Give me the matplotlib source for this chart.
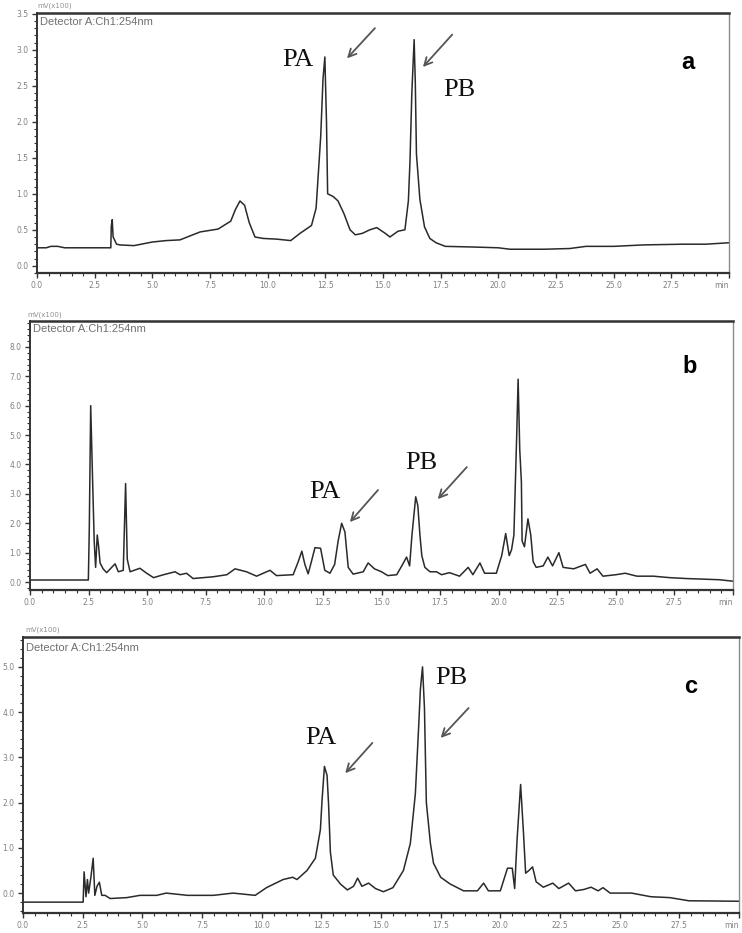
import matplotlib
matplotlib.use("Agg")
import matplotlib.pyplot as plt
from matplotlib.ticker import MultipleLocator

# ---------------- data (time in min, signal in mV x100) ----------------
t_a = [0.0, 0.4, 0.6, 0.9, 1.2, 3.2, 3.22, 3.26, 3.3, 3.36, 3.45, 3.6, 4.2, 5.0, 5.6,
       6.2, 7.07, 7.85, 8.4, 8.6, 8.8, 9.0, 9.2, 9.45, 9.8, 10.4, 11.0, 11.4, 11.9,
       12.1, 12.3, 12.4, 12.48, 12.55, 12.6, 12.85, 13.05, 13.3, 13.57, 13.8, 14.1,
       14.43, 14.73, 15.1, 15.3, 15.65, 15.95, 16.1, 16.17, 16.25, 16.35, 16.4,
       16.45, 16.6, 16.8, 17.03, 17.3, 17.7, 19.0, 20.0, 20.5, 22.0, 23.1, 23.8,
       25.0, 26.3, 28.0, 29.0, 30.0]
v_a = [0.25, 0.25, 0.27, 0.27, 0.25, 0.25, 0.55, 0.64, 0.4, 0.36, 0.3, 0.29, 0.28, 0.33, 0.35,
       0.36, 0.47, 0.51, 0.62, 0.78, 0.9, 0.84, 0.6, 0.4, 0.38, 0.37, 0.35, 0.45, 0.56,
       0.8, 1.8, 2.6, 2.9, 2.0, 1.0, 0.96, 0.9, 0.73, 0.5, 0.43, 0.45,
       0.5, 0.53, 0.45, 0.4, 0.48, 0.5, 0.9, 1.45, 2.4, 3.14, 2.55,
       1.55, 0.92, 0.54, 0.38, 0.32, 0.27, 0.26, 0.25, 0.23, 0.23, 0.24, 0.27,
       0.27, 0.29, 0.3, 0.3, 0.32]

t_b = [0.0, 2.49, 2.53, 2.59, 2.66, 2.74, 2.8, 2.87, 2.93, 2.99, 3.12, 3.27, 3.63, 3.77,
       3.98, 4.08, 4.15, 4.27, 4.69, 4.98, 5.27, 5.7, 6.19, 6.4, 6.68, 6.96, 7.82, 8.4,
       8.75, 9.24, 9.67, 10.24, 10.52, 11.23, 11.45, 11.6, 11.73, 11.87, 12.01, 12.16,
       12.4, 12.58, 12.8, 13.0, 13.15, 13.3, 13.44, 13.58, 13.79, 14.22, 14.43, 14.7,
       15.0, 15.27, 15.65, 15.9, 16.07, 16.2, 16.3, 16.46, 16.55, 16.64, 16.72, 16.85,
       17.07, 17.35, 17.56, 17.9, 18.33, 18.7, 18.9, 19.2, 19.4, 19.9, 20.13, 20.3,
       20.45, 20.55, 20.65, 20.77, 20.83, 20.9, 20.97, 21.0, 21.1, 21.25, 21.37, 21.47,
       21.6, 21.9, 22.1, 22.3, 22.57, 22.75, 23.2, 23.7, 23.9, 24.2, 24.45, 25.0, 25.4,
       25.9, 26.6, 27.3, 28.0, 29.4, 30.0]
v_b = [0.07, 0.07, 1.8, 6.0, 3.8, 1.4, 0.5, 1.6, 1.2, 0.65, 0.45, 0.32, 0.62, 0.35,
       0.4, 3.35, 0.78, 0.35, 0.47, 0.3, 0.15, 0.25, 0.35, 0.25, 0.3, 0.12, 0.18, 0.25,
       0.45, 0.35, 0.2, 0.4, 0.22, 0.25, 0.7, 1.05, 0.6, 0.28, 0.7, 1.17,
       1.15, 0.4, 0.3, 0.6, 1.4, 2.0, 1.7, 0.5, 0.27, 0.35, 0.65, 0.45,
       0.35, 0.22, 0.25, 0.6, 0.85, 0.55, 1.6, 2.9, 2.6, 1.6, 0.9, 0.5,
       0.35, 0.35, 0.25, 0.32, 0.2, 0.5, 0.25, 0.65, 0.3, 0.3, 0.9, 1.65,
       0.9, 1.1, 1.6, 5.0, 6.9, 4.5, 3.4, 1.4, 1.2, 2.15, 1.6, 0.7,
       0.5, 0.55, 0.85, 0.55, 1.0, 0.5, 0.45, 0.6, 0.3, 0.45, 0.2, 0.25, 0.3,
       0.2, 0.2, 0.15, 0.12, 0.08, 0.03]

t_c = [0.0, 2.52, 2.56, 2.64, 2.7, 2.75, 2.84, 2.94, 3.01, 3.1, 3.2, 3.3, 3.44, 3.65,
       4.35, 4.9, 5.6, 6.0, 6.9, 7.98, 8.8, 9.73, 10.2, 10.9, 11.3, 11.48, 11.9, 12.25,
       12.46, 12.53, 12.63, 12.74, 12.8, 12.88, 13.0, 13.3, 13.59, 13.85, 14.02, 14.2,
       14.48, 14.77, 15.1, 15.5, 15.94, 16.23, 16.44, 16.58, 16.65, 16.74, 16.82, 16.9,
       17.07, 17.2, 17.5, 17.9, 18.46, 19.04, 19.3, 19.5, 20.0, 20.3, 20.5, 20.6, 20.7,
       20.85, 20.97, 21.06, 21.2, 21.35, 21.5, 21.8, 22.2, 22.45, 22.86, 23.15, 23.5,
       23.8, 24.1, 24.3, 24.6, 25.5, 26.3, 27.1, 27.9, 30.0]
v_c = [-0.2, -0.2, 0.47, -0.08, 0.3, 0.0, 0.33, 0.77, -0.05, 0.15, 0.24, -0.05, -0.05, -0.12,
       -0.1, -0.05, -0.05, 0.0, -0.05, -0.05, 0.0, -0.05, 0.12, 0.3, 0.35, 0.3, 0.5, 0.77,
       1.4, 2.05, 2.8, 2.6, 2.0, 0.9, 0.4, 0.2, 0.07, 0.15, 0.33, 0.15,
       0.22, 0.1, 0.03, 0.12, 0.5, 1.1, 2.2, 3.7, 4.5, 5.0, 4.1, 2.0,
       1.1, 0.66, 0.35, 0.2, 0.05, 0.05, 0.22, 0.05, 0.05, 0.55, 0.55, 0.1, 1.17,
       2.4, 1.33, 0.44, 0.5, 0.58, 0.25, 0.13, 0.22, 0.1, 0.22, 0.05, 0.08,
       0.13, 0.05, 0.12, 0.0, 0.0, -0.08, -0.1, -0.17, -0.18]

x_ticks = [0.0, 2.5, 5.0, 7.5, 10.0, 12.5, 15.0, 17.5, 20.0, 22.5, 25.0, 27.5, 30.0]
x_tick_labels = ["0.0", "2.5", "5.0", "7.5", "10.0", "12.5", "15.0", "17.5",
                 "20.0", "22.5", "25.0", "27.5", "min"]
y_ticks_a = [0.0, 0.5, 1.0, 1.5, 2.0, 2.5, 3.0, 3.5]
y_ticks_b = [0, 1, 2, 3, 4, 5, 6, 7, 8]
y_ticks_c = [0, 1, 2, 3, 4, 5]

# ---------------- figure ----------------
W, H = 742, 933
fig = plt.figure(figsize=(W / 100, H / 100), dpi=100)


def px_axes(l, t, r, b):
    return fig.add_axes([l / W, 1 - b / H, (r - l) / W, (b - t) / H])


panels = [
    dict(box=(37, 13, 729, 273), t=t_a, v=v_a, ylim=(-0.1, 3.51), yt=y_ticks_a, ymin=0.1,
         letter="a", lpos=(0.94, 0.81), mv=(0.026, 1.027), det=0.965,
         pa=(11.3, 2.86), pa_arr=((14.65, 3.3), (13.44, 2.88)),
         pb=(18.3, 2.44), pb_arr=((18.0, 3.21), (16.73, 2.76))),
    dict(box=(30, 321, 733, 590), t=t_b, v=v_b, ylim=(-0.27, 8.88), yt=y_ticks_b, ymin=0.2,
         letter="b", lpos=(0.939, 0.829), mv=(0.021, 1.022), det=0.97,
         pa=(12.6, 3.06), pa_arr=((14.85, 3.13), (13.65, 2.04)),
         pb=(16.7, 4.05), pb_arr=((18.64, 3.91), (17.4, 2.82))),
    dict(box=(23, 637, 739, 913), t=t_c, v=v_c, ylim=(-0.44, 5.66), yt=y_ticks_c, ymin=0.2,
         letter="c", lpos=(0.932, 0.819), mv=(0.027, 1.025), det=0.96,
         pa=(12.46, 3.43), pa_arr=((14.64, 3.32), (13.5, 2.65)),
         pb=(17.95, 4.76), pb_arr=((18.67, 4.09), (17.5, 3.43))),
]

for p in panels:
    ax = px_axes(*p["box"])
    ax.plot(p["t"], p["v"], color="#2a2a2a", lw=1.1)
    ax.set_xlim(0, 30)
    ax.set_ylim(*p["ylim"])
    ax.set_xticks(x_ticks)
    ax.set_xticklabels(x_tick_labels)
    ax.get_xticklabels()[-1].set_horizontalalignment("right")
    ax.set_yticks(p["yt"])
    ax.set_yticklabels([f"{y:.1f}" for y in p["yt"]])
    ax.xaxis.set_minor_locator(MultipleLocator(0.5))
    ax.yaxis.set_minor_locator(MultipleLocator(p["ymin"]))
    ax.tick_params(which="major", direction="out", length=3.5, width=1.0,
                   labelsize=5.5, labelcolor="#808080", color="#333333", pad=2.5)
    ax.tick_params(which="minor", direction="out", length=2, width=0.8, color="#333333")
    for side in ("left", "bottom", "top"):
        ax.spines[side].set_color("#333333")
    ax.spines["top"].set_linewidth(1.8)
    ax.spines["bottom"].set_linewidth(1.6)
    ax.spines["left"].set_linewidth(1.4)
    ax.spines["right"].set_color("#8a8a8a")
    ax.spines["right"].set_linewidth(1.0)

    ax.text(0.004, p["det"], "Detector A:Ch1:254nm", transform=ax.transAxes,
            fontsize=8, color="#707070", ha="left", va="center",
            family="Liberation Sans")
    ax.text(p["mv"][0], p["mv"][1], "mV(x100)", transform=ax.transAxes,
            fontsize=5, color="#909090", ha="center", va="center")
    ax.text(p["lpos"][0], p["lpos"][1], p["letter"], transform=ax.transAxes,
            fontsize=17, fontweight="bold", ha="center", va="center",
            family="Liberation Sans", color="black")
    ax.text(p["pa"][0], p["pa"][1], "PA", fontsize=19, family="Liberation Serif",
            ha="center", va="center", color="#111111")
    ax.text(p["pb"][0], p["pb"][1], "PB", fontsize=19, family="Liberation Serif",
            ha="center", va="center", color="#111111")
    for (start, end) in (p["pa_arr"], p["pb_arr"]):
        ax.annotate("", xy=end, xytext=start,
                    arrowprops=dict(arrowstyle="->", color="#555555", lw=1.3,
                                    mutation_scale=14, shrinkA=0, shrinkB=0))

fig.savefig("out.png", dpi=100)
